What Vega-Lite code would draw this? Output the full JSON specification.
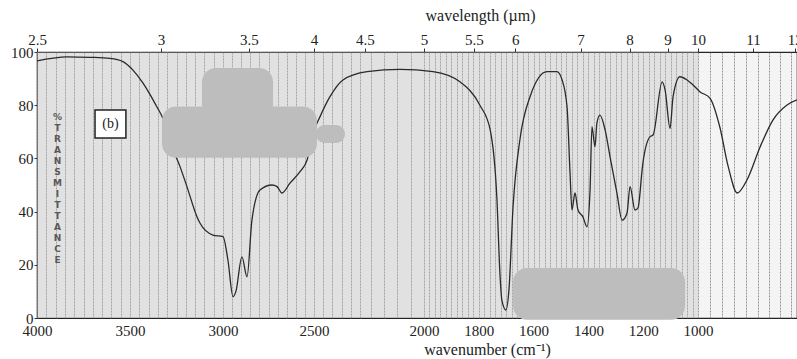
{
  "$schema": "https://vega.github.io/schema/vega-lite/v6.json",
  "width": 760,
  "height": 266,
  "autosize": {"type": "none"},
  "padding": {"left": 37, "top": 52, "right": 0, "bottom": 41},
  "background": "white",
  "config": {
    "view": {"stroke": "#222222", "strokeWidth": 1.2, "fill": "#f4f4f4"},
    "font": "Liberation Serif",
    "axis": {"labelFont": "Liberation Serif", "titleFont": "Liberation Serif", "labelColor": "#222222", "titleColor": "#222222", "domain": false, "titleFontWeight": "normal"}
  },
  "datasets": {
    "region": [{"wn": 4000, "wn2": 1000, "T": 100, "T2": 0}],
    "spectrum": [
      {"wn": 4000, "T": 96.7}, {"wn": 3930, "T": 97.5}, {"wn": 3839, "T": 98.2}, {"wn": 3715, "T": 98.0},
      {"wn": 3608, "T": 97.6}, {"wn": 3538, "T": 96.4}, {"wn": 3484, "T": 93.2}, {"wn": 3430, "T": 88.3},
      {"wn": 3392, "T": 84.0}, {"wn": 3355, "T": 79.3}, {"wn": 3323, "T": 75.0}, {"wn": 3285, "T": 66.0},
      {"wn": 3231, "T": 56.9}, {"wn": 3194, "T": 49.4}, {"wn": 3140, "T": 38.1}, {"wn": 3124, "T": 35.7},
      {"wn": 3054, "T": 31.2}, {"wn": 3000, "T": 30.6}, {"wn": 2973, "T": 21.8}, {"wn": 2945, "T": 8.0},
      {"wn": 2929, "T": 10.0}, {"wn": 2896, "T": 23.0}, {"wn": 2868, "T": 15.5}, {"wn": 2841, "T": 36.8},
      {"wn": 2797, "T": 48.1}, {"wn": 2731, "T": 50.0}, {"wn": 2703, "T": 49.4}, {"wn": 2676, "T": 47.0},
      {"wn": 2632, "T": 50.7}, {"wn": 2577, "T": 55.0}, {"wn": 2538, "T": 59.4}, {"wn": 2505, "T": 69.5},
      {"wn": 2467, "T": 75.7}, {"wn": 2413, "T": 83.2}, {"wn": 2342, "T": 89.5}, {"wn": 2214, "T": 92.6},
      {"wn": 2090, "T": 93.5}, {"wn": 1967, "T": 92.6}, {"wn": 1869, "T": 88.8}, {"wn": 1796, "T": 80.0},
      {"wn": 1759, "T": 71.0}, {"wn": 1734, "T": 45.0}, {"wn": 1723, "T": 17.0}, {"wn": 1716, "T": 6.8},
      {"wn": 1701, "T": 3.0}, {"wn": 1690, "T": 10.5}, {"wn": 1675, "T": 41.8}, {"wn": 1650, "T": 67.0},
      {"wn": 1613, "T": 83.2}, {"wn": 1551, "T": 92.6}, {"wn": 1515, "T": 92.6}, {"wn": 1496, "T": 89.5},
      {"wn": 1478, "T": 79.4}, {"wn": 1467, "T": 54.4}, {"wn": 1460, "T": 40.6}, {"wn": 1449, "T": 47.0},
      {"wn": 1438, "T": 40.6}, {"wn": 1420, "T": 38.0}, {"wn": 1405, "T": 34.3}, {"wn": 1394, "T": 48.0},
      {"wn": 1387, "T": 71.9}, {"wn": 1376, "T": 64.4}, {"wn": 1369, "T": 73.3}, {"wn": 1358, "T": 76.3},
      {"wn": 1339, "T": 70.7}, {"wn": 1321, "T": 60.6}, {"wn": 1296, "T": 47.0}, {"wn": 1277, "T": 36.8},
      {"wn": 1259, "T": 39.5}, {"wn": 1248, "T": 49.4}, {"wn": 1230, "T": 40.6}, {"wn": 1219, "T": 41.4},
      {"wn": 1204, "T": 55.6}, {"wn": 1201, "T": 58.3}, {"wn": 1175, "T": 68.2}, {"wn": 1164, "T": 68.8},
      {"wn": 1131, "T": 88.8}, {"wn": 1120, "T": 85.7}, {"wn": 1102, "T": 71.3}, {"wn": 1091, "T": 83.2},
      {"wn": 1066, "T": 90.7}, {"wn": 1040, "T": 89.5}, {"wn": 1018, "T": 87.6}, {"wn": 997, "T": 85.1},
      {"wn": 980, "T": 82.6}, {"wn": 964, "T": 71.9}, {"wn": 950, "T": 56.9}, {"wn": 935, "T": 47.0},
      {"wn": 919, "T": 51.9}, {"wn": 896, "T": 64.4}, {"wn": 873, "T": 74.4}, {"wn": 848, "T": 80.0},
      {"wn": 829, "T": 82.0}
    ],
    "box": [{"wn": 3688, "wn2": 3522, "T": 78.2, "T2": 67.7, "label": "(b)"}],
    "blobs": [
      {"wn": 3113, "wn2": 2725, "T": 94.0, "T2": 75.0},
      {"wn": 3328, "wn2": 2484, "T": 79.5, "T2": 60.2},
      {"wn": 2490, "wn2": 2331, "T": 72.6, "T2": 65.8},
      {"wn": 1675, "wn2": 1047, "T": 18.8, "T2": -0.7}
    ]
  },
  "resolve": {"axis": {"x": "independent", "y": "independent"}},
  "layer": [
    {
      "data": {"name": "region"},
      "mark": {"type": "rect", "fill": "#bdbdbd", "opacity": 0.35},
      "encoding": {
        "x": {
          "field": "wn", "type": "quantitative",
          "scale": {"domain": [4000, 3500, 3000, 2500, 2222, 2000, 1000, 909, 833, 829], "range": [0, 93, 186, 277, 328, 387, 661, 716, 758, 760], "nice": false, "zero": false},
          "axis": {
            "orient": "bottom",
            "values": [4000,3950,3900,3850,3800,3750,3700,3650,3600,3550,3500,3450,3400,3350,3300,3250,3200,3150,3100,3050,3000,2950,2900,2850,2800,2750,2700,2650,2600,2550,2500,2450,2400,2350,2300,2250,2200,2150,2100,2050,2000,1980,1960,1940,1920,1900,1880,1860,1840,1820,1800,1780,1760,1740,1720,1700,1680,1660,1640,1620,1600,1580,1560,1540,1520,1500,1480,1460,1440,1420,1400,1380,1360,1340,1320,1300,1280,1260,1240,1220,1200,1180,1160,1140,1120,1100,1080,1060,1040,1020,1000,980,960,940,920,900,880,860,840],
            "format": "d",
            "labelExpr": "indexof([4000,3500,3000,2500,2000,1800,1600,1400,1200,1000], datum.value) >= 0 ? datum.label : ''",
            "grid": true, "gridColor": "#6e6e6e", "gridOpacity": 0.7, "gridWidth": 1, "gridDash": [2, 1],
            "ticks": false, "labelFontSize": 15, "labelPadding": 5, "labelOverlap": false, "labelFlush": false,
            "title": "wavenumber (cm⁻¹)", "titleFontSize": 16, "titleX": 450, "titleY": 36, "titleAlign": "center", "titleBaseline": "alphabetic"
          }
        },
        "x2": {"field": "wn2"},
        "y": {
          "field": "T", "type": "quantitative",
          "scale": {"domain": [0, 100], "nice": false, "zero": false},
          "axis": {
            "orient": "left", "values": [0, 20, 40, 60, 80, 100], "grid": false, "ticks": true, "tickSize": 3, "tickColor": "#333333",
            "labelFontSize": 15, "labelPadding": 1,
            "title": ["%", "T", "R", "A", "N", "S", "M", "I", "T", "T", "A", "N", "C", "E"],
            "titleAngle": 0, "titleX": 20, "titleY": 60, "titleAlign": "center", "titleBaseline": "top",
            "titleFont": "DejaVu Sans", "titleFontSize": 9, "titleFontWeight": "bold", "titleLineHeight": 11
          }
        },
        "y2": {"field": "T2"}
      }
    },
    {
      "data": {"name": "spectrum"},
      "mark": {"type": "line", "color": "#2a2a2a", "strokeWidth": 1.3, "interpolate": "monotone"},
      "encoding": {
        "x": {
          "field": "wn", "type": "quantitative",
          "scale": {"domain": [4000, 3500, 3000, 2500, 2222, 2000, 1000, 909, 833, 829], "range": [0, 93, 186, 277, 328, 387, 661, 716, 758, 760], "nice": false, "zero": false},
          "axis": {
            "orient": "top",
            "values": [4000, 3333.3333, 2857.1429, 2500, 2222.2222, 2000, 1818.1818, 1666.6667, 1428.5714, 1250, 1111.1111, 1000, 909.0909, 833.3333],
            "labelExpr": "format(10000/datum.value, '.1~f')",
            "grid": false, "ticks": true, "tickSize": 4, "tickColor": "#333333",
            "labelFontSize": 15, "labelPadding": 1, "labelOverlap": false, "labelFlush": false,
            "title": "wavelength (µm)", "titleFontSize": 16, "titleX": 443, "titleY": -32, "titleAlign": "center", "titleBaseline": "alphabetic"
          }
        },
        "y": {"field": "T", "type": "quantitative", "scale": {"domain": [0, 100], "nice": false, "zero": false}, "axis": null}
      }
    },
    {
      "data": {"name": "box"},
      "mark": {"type": "rect", "fill": "white", "stroke": "#222222", "strokeWidth": 1.5},
      "encoding": {
        "x": {"field": "wn", "type": "quantitative", "axis": null},
        "x2": {"field": "wn2"},
        "y": {"field": "T", "type": "quantitative", "axis": null},
        "y2": {"field": "T2"}
      }
    },
    {
      "data": {"name": "box"},
      "transform": [{"calculate": "(datum.wn + datum.wn2) / 2", "as": "wc"}, {"calculate": "(datum.T + datum.T2) / 2", "as": "tc"}],
      "mark": {"type": "text", "font": "Liberation Serif", "fontSize": 14, "color": "#222222", "baseline": "middle", "align": "center"},
      "encoding": {
        "x": {"field": "wc", "type": "quantitative", "axis": null},
        "y": {"field": "tc", "type": "quantitative", "axis": null},
        "text": {"field": "label"}
      }
    },
    {
      "data": {"name": "blobs"},
      "mark": {"type": "rect", "fill": "#bdbdbd", "cornerRadius": 14},
      "encoding": {
        "x": {"field": "wn", "type": "quantitative", "axis": null},
        "x2": {"field": "wn2"},
        "y": {"field": "T", "type": "quantitative", "axis": null},
        "y2": {"field": "T2"}
      }
    }
  ]
}
